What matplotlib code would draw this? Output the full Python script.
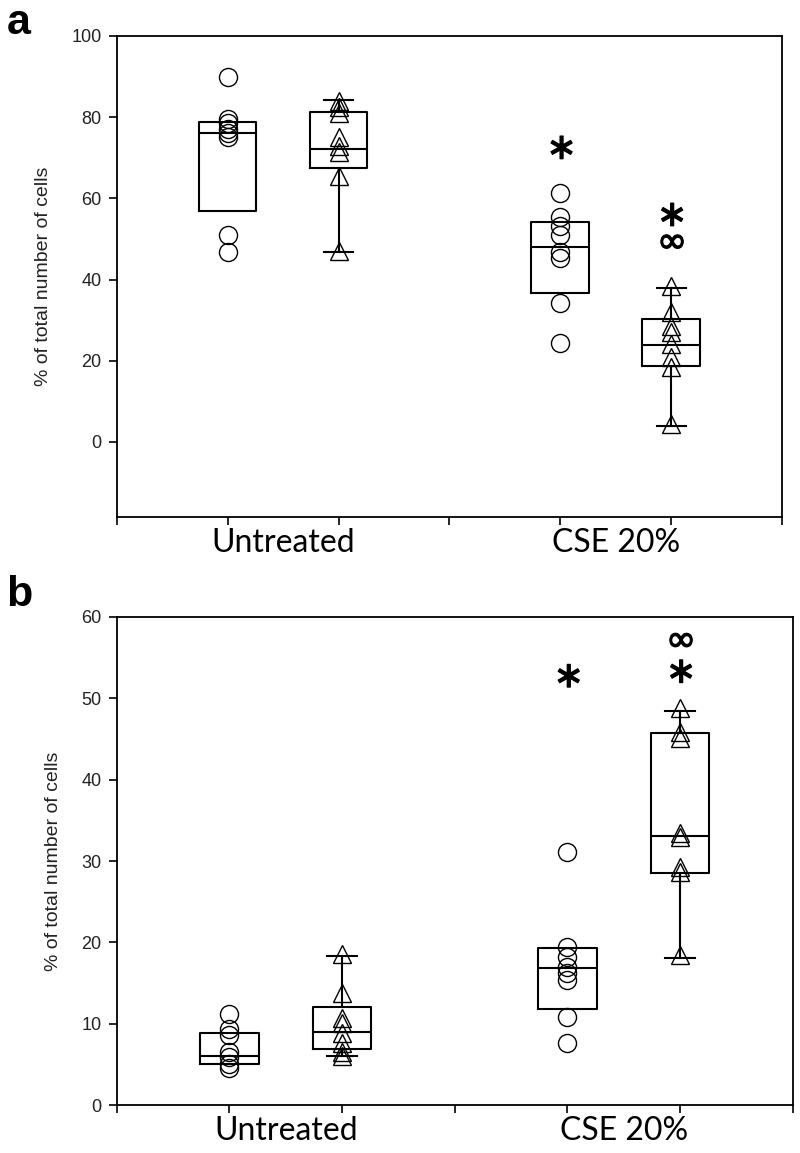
import matplotlib
matplotlib.use("Agg")
import matplotlib.pyplot as plt
import matplotlib.patheffects as pe

# categories and box positions
groups = ["Untreated", "CSE 20%"]
group_pos = [1.5, 4.5]
circ_pos = [1, 4]
tri_pos = [2, 5]

# panel a values (% of total number of cells)
a_untr_circ = [89.9, 79.5, 78.5, 77.0, 76.0, 75.0, 51.0, 46.7]
a_untr_tri = [84.0, 82.5, 81.0, 75.0, 73.0, 71.5, 65.5, 47.0]
a_cse_circ = [61.2, 55.3, 53.3, 50.9, 46.7, 45.2, 34.3, 24.4]
a_cse_tri = [38.5, 32.0, 28.5, 27.0, 24.0, 21.0, 18.5, 4.5]
# box stats: q1, median, q3 (, whisker low, whisker high)
a_circ_box = [(56.8, 76.2, 78.7), (36.8, 48.1, 54.1)]
a_tri_box = [(67.4, 72.1, 81.2, 46.9, 84.2), (18.8, 23.9, 30.4, 3.9, 37.8)]
# significance marks: (x, y, symbols from top to bottom)
a_marks = [(4, 72.2, ["ast"]), (5, 52.6, ["ast", "infty"])]

# panel b values
b_untr_circ = [11.2, 9.3, 8.6, 6.5, 5.9, 5.1, 4.5]
b_untr_tri = [18.6, 13.8, 10.7, 10.1, 8.8, 7.6, 6.5, 6.0]
b_cse_circ = [31.1, 19.4, 18.2, 17.0, 16.2, 15.4, 10.8, 7.6]
b_cse_tri = [48.8, 45.8, 45.1, 33.4, 33.0, 29.3, 28.7, 18.4]
b_circ_box = [(5.1, 6.0, 8.8), (11.8, 16.8, 19.3)]
b_tri_box = [(6.9, 9.0, 12.1, 6.0, 18.3), (28.5, 33.1, 45.7, 18.1, 48.4)]
b_marks = [(4, 52.6, ["ast"]), (5, 54.9, ["infty", "ast"])]

ylabel = "% of total number of cells"

fig = plt.figure(figsize=(8, 11.53), dpi=100)
ax_a = fig.add_axes([0.146, 0.5516, 0.8315, 0.4172])
ax_b = fig.add_axes([0.146, 0.0416, 0.845, 0.4233])

line = dict(color="black", linewidth=1.5)


def stats(box):
    q1, med, q3 = box[:3]
    lo, hi = (box[3], box[4]) if len(box) > 3 else (q1, q3)
    return dict(q1=q1, med=med, q3=q3, whislo=lo, whishi=hi, fliers=[])


def draw_panel(ax, circ, tri, circ_box, tri_box, marks, ylim, yticks):
    ax.bxp([stats(b) for b in circ_box], positions=circ_pos, widths=0.52,
           showcaps=False, boxprops=line, medianprops=line,
           whiskerprops=line, manage_ticks=False)
    ax.bxp([stats(b) for b in tri_box], positions=tri_pos, widths=0.52,
           capwidths=0.26, boxprops=line, medianprops=line,
           whiskerprops=line, capprops=line, manage_ticks=False)
    for x, vals in zip(circ_pos, circ):
        ax.plot([x] * len(vals), vals, "o", ms=13, mfc="none", mec="black", mew=1.0)
    for x, vals in zip(tri_pos, tri):
        ax.plot([x] * len(vals), vals, "^", ms=13, mfc="none", mec="black", mew=1.0)
    for x, y, syms in marks:
        if len(syms) == 1:
            s = r"$\%s$" % syms[0]
        else:
            s = r"$\genfrac{}{}{0}{0}{\%s}{\%s}$" % (syms[0], syms[1])
        ax.text(x, y, s, ha="center", va="center", fontsize=26,
                path_effects=[pe.withStroke(linewidth=0.9, foreground="black")])

    ax.set_xlim(0, 6)
    ax.set_ylim(*ylim)
    ax.set_yticks(yticks)
    ax.set_xticks(range(7))
    ax.set_xticklabels([])
    ax.set_xticks(group_pos, minor=True)
    ax.set_xticklabels(groups, minor=True, fontsize=23, family="Lato")
    ax.tick_params(axis="x", which="minor", length=0, pad=8)
    ax.tick_params(axis="both", which="major", direction="out", length=6,
                   width=1.2, pad=5)
    ax.tick_params(axis="y", labelsize=13, labelcolor="#222222")
    for lab in ax.get_yticklabels():
        lab.set_family("Liberation Sans")
    for sp in ax.spines.values():
        sp.set_linewidth(1.3)
    ax.set_ylabel(ylabel, fontsize=14, family="Liberation Sans", labelpad=14,
                  color="#222222")


draw_panel(ax_a, [a_untr_circ, a_cse_circ], [a_untr_tri, a_cse_tri],
           a_circ_box, a_tri_box, a_marks, (-18.5, 100), range(0, 101, 20))
draw_panel(ax_b, [b_untr_circ, b_cse_circ], [b_untr_tri, b_cse_tri],
           b_circ_box, b_tri_box, b_marks, (0, 60), range(0, 61, 10))

fig.text(0.008, 0.997, "a", fontsize=31, fontweight="bold", family="Liberation Sans",
         ha="left", va="top")
fig.text(0.008, 0.501, "b", fontsize=31, fontweight="bold", family="Liberation Sans",
         ha="left", va="top")

fig.savefig("out.png", dpi=100)
